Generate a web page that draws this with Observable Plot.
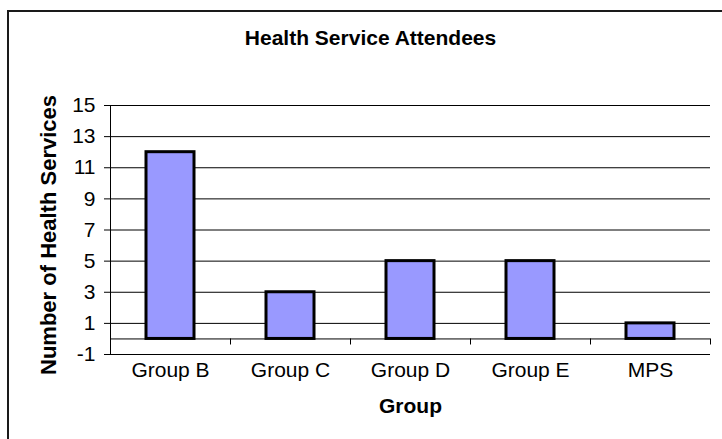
<!DOCTYPE html>
<html>
<head>
<meta charset="utf-8">
<script src="https://cdn.jsdelivr.net/npm/d3@7"></script>
<script src="https://cdn.jsdelivr.net/npm/@observablehq/plot@0.6"></script>
<style>
  html, body { margin: 0; padding: 0; background: #fff; overflow: hidden; }
  #wrap { position: relative; width: 722px; height: 439px; }
  #border { position: absolute; left: 7px; top: 10px; width: 800px; height: 600px;
            border-top: 2px solid #1a1a1a; border-left: 2px solid #1a1a1a; pointer-events: none; }
  #chart { position: absolute; left: 0; top: 0; }
</style>
</head>
<body>
<div id="wrap">
  <div id="chart"></div>
  <div id="border"></div>
</div>
<script>
const groups = ["Group B", "Group C", "Group D", "Group E", "MPS"];
const services = [12, 3, 5, 5, 1];
const yTicks = [-1, 1, 3, 5, 7, 9, 11, 13, 15];
const chartTitle = "Health Service Attendees";
const xTitle = "Group";
const yTitle = "Number of Health Services";

const data = groups.map((g, i) => ({group: g, value: services[i]}));

const plot = Plot.plot({
  width: 722,
  height: 439,
  marginLeft: 110,
  marginRight: 12,
  marginTop: 105,
  marginBottom: 85,
  style: {fontFamily: "'Liberation Sans', Arial, sans-serif", fontSize: "21px", background: "transparent", color: "#000"},
  x: {domain: groups, paddingInner: 0.6, paddingOuter: 0.3},
  y: {domain: [-1, 15]},
  marks: [
    Plot.gridY(yTicks, {stroke: "#000", strokeOpacity: 1, strokeWidth: 1}),
    Plot.ruleY([0], {stroke: "#000", strokeWidth: 1}),
    Plot.ruleX(groups, {x: d => d, dx: 60, y1: 0, y2: -1, insetBottom: 9.5, stroke: "#000"}),
    Plot.frame({anchor: "left", stroke: "#000"}),
    Plot.barY(data, {x: "group", y: "value", fill: "#9999FF", stroke: "#000", strokeWidth: 3}),
    Plot.axisY(yTicks, {tickSize: 6, tickPadding: 9, label: null, fontSize: 21, stroke: "#000", tickFormat: d => String(d)}),
    Plot.axisX({tickSize: 0, tickPadding: 8, label: null, fontSize: 21}),
    Plot.text([chartTitle], {frameAnchor: "top-left", dx: 260, dy: -61, text: d => d, textAnchor: "middle", lineAnchor: "bottom", fontWeight: "bold", fontSize: 21}),
    Plot.text([xTitle], {frameAnchor: "bottom", dy: 58, text: d => d, textAnchor: "middle", lineAnchor: "bottom", fontWeight: "bold", fontSize: 21}),
    Plot.text([yTitle], {frameAnchor: "left", dx: -55, dy: 5, text: d => d, rotate: -90, textAnchor: "middle", lineAnchor: "bottom", fontWeight: "bold", fontSize: 22})
  ]
});
document.getElementById("chart").appendChild(plot);
</script>
</body>
</html>
